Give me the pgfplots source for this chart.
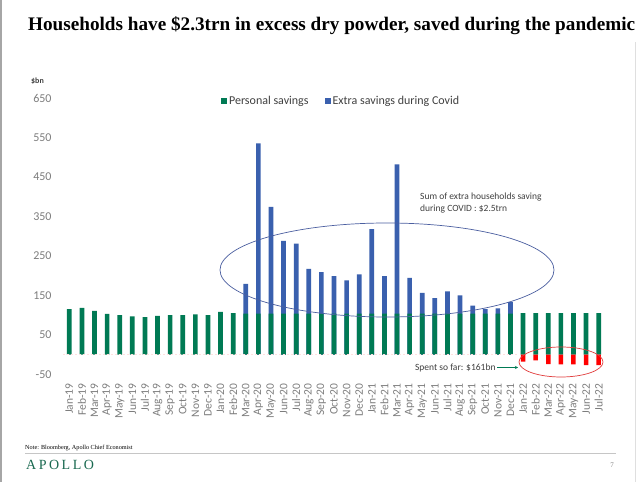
\documentclass[border=0pt]{standalone}
\usepackage{pgfplots}
\pgfplotsset{compat=1.18}
\usetikzlibrary{arrows.meta}
\usepackage{fontspec}
\setmainfont{Carlito}
\newfontfamily\titlefont{Liberation Serif}
\newfontfamily\apollofont[LetterSpace=18]{Liberation Serif}
\definecolor{psgreen}{RGB}{0,122,84}
\definecolor{cvblue}{RGB}{58,96,174}
\definecolor{spred}{RGB}{255,0,0}
\definecolor{ticklab}{RGB}{125,125,125}
\definecolor{txt}{RGB}{64,64,64}
\definecolor{ellblue}{RGB}{75,95,160}
\definecolor{ellred}{RGB}{225,60,60}
\definecolor{apgreen}{RGB}{25,105,80}
\begin{document}
\begin{tikzpicture}[x=1pt,y=1pt]
\useasboundingbox (0,0) rectangle (640,482);
\fill[white] (0,0) rectangle (640,482);
\draw[gray!70, line width=1.5pt] (0.8,0) -- (0.8,482);
\draw[gray!25, line width=0.8pt] (635,0) -- (635,440);
\coordinate (axpos) at (56.7pt,107.7pt);
\node[anchor=base west, inner sep=0pt] at (28,451) {\resizebox{607pt}{!}{\titlefont\bfseries Households have \$2.3trn in excess dry powder, saved during the pandemic}};
\node[anchor=center, inner sep=0pt, text=txt] at (37.5,400.5) {\fontsize{8}{9}\selectfont\bfseries \$bn};
\begin{axis}[
  at={(axpos)}, anchor=south west, scale only axis,
  width=554.6pt, height=276.3pt,
  xmin=-1, xmax=43, ymin=-50, ymax=650,
  clip=false,
  axis line style={draw=none},
  major tick length=0pt,
  xtick={0,...,42},
  xticklabels={Jan-19,Feb-19,Mar-19,Apr-19,May-19,Jun-19,Jul-19,Aug-19,Sep-19,Oct-19,Nov-19,Dec-19,Jan-20,Feb-20,Mar-20,Apr-20,May-20,Jun-20,Jul-20,Aug-20,Sep-20,Oct-20,Nov-20,Dec-20,Jan-21,Feb-21,Mar-21,Apr-21,May-21,Jun-21,Jul-21,Aug-21,Sep-21,Oct-21,Nov-21,Dec-21,Jan-22,Feb-22,Mar-22,Apr-22,May-22,Jun-22,Jul-22},
  ytick={-50,50,150,250,350,450,550,650},
  yticklabels={-50,50,150,250,350,450,550,650},
  xticklabel style={rotate=90, anchor=east, inner sep=0pt, text=ticklab, font=\fontsize{11.5}{12}\selectfont},
  xticklabel shift=9pt,
  yticklabel style={anchor=east, inner sep=0pt, text=ticklab, font=\fontsize{12}{13}\selectfont},
  yticklabel shift=5pt,
  legend style={at={(0.296,0.989)}, anchor=west, draw=none, fill=none, inner sep=0pt,
    font=\fontsize{12}{14}\selectfont, text=txt, legend columns=2,
    /tikz/every even column/.append style={column sep=14pt},
    legend cell align=left},
  legend image code/.code={\fill[#1] (-2.5pt,-3pt) rectangle (3.5pt,3pt);},
]
\addplot[ybar, bar width=4.7pt, fill=cvblue, draw=none, forget plot] coordinates {
(14,179)(15,535)(16,374)(17,288)(18,281)(19,217)(20,209)(21,199)(22,188)(23,203)
(24,318)(25,199)(26,482)(27,194)(28,156)(29,143)(30,160)(31,150)(32,124)(33,115)(34,117)(35,133)};
\addplot[ybar, bar width=4.7pt, fill=psgreen, draw=none] coordinates {
(0,115)(1,118)(2,111)(3,103)(4,100)(5,97)(6,95)(7,98)(8,100)(9,100)(10,102)(11,100)
(12,108)(13,105)(14,104)(15,104)(16,104)(17,104)(18,104)(19,104)(20,104)(21,104)(22,104)(23,104)
(24,104)(25,104)(26,104)(27,104)(28,104)(29,104)(30,104)(31,104)(32,104)(33,104)(34,104)(35,104)
(36,105)(37,105)(38,105)(39,105)(40,105)(41,105)(42,105)};
\addlegendentry{Personal savings}
\addlegendimage{fill=cvblue, draw=none}
\addlegendentry{Extra savings during Covid}
\addplot[ybar, bar width=4.5pt, fill=spred, draw=none, forget plot] coordinates {
(36,-18)(37,-15)(38,-24)(39,-25)(40,-25)(41,-27)(42,-27)};
\addplot[spred!12, line width=0.8pt, dash pattern=on 1.5pt off 2.5pt, forget plot] coordinates {(-0.5,0)(35.5,0)};
\end{axis}
\draw[ellblue, line width=0.7pt] (387,212) ellipse [x radius=167, y radius=47];
\draw[ellred, line width=0.7pt] (561,120) ellipse [x radius=42, y radius=15];
\node[anchor=north west, inner sep=0pt, align=left, text=txt, font=\fontsize{9.5}{11.7}\selectfont] at (420,289) {Sum of extra households saving\\during COVID : \$2.5trn};
\node[anchor=east, inner sep=0pt, text=txt, font=\fontsize{9.5}{11}\selectfont] at (495.7,114) {Spent so far: \$161bn};
\draw[psgreen, line width=0.7pt, -{Stealth[length=3pt,width=3pt]}] (497,114.5) -- (518,114.5);
\node[anchor=base west, inner sep=0pt, text=black] at (25,32) {\titlefont\fontsize{6.2}{7}\selectfont Note: Bloomberg, Apollo Chief Economist};
\draw[gray!45, line width=1pt] (25,28) -- (616,28);
\node[anchor=west, inner sep=0pt, text=apgreen] at (26,17) {\apollofont\fontsize{14}{16}\selectfont APOLLO};
\node[anchor=center, inner sep=0pt, text=gray] at (612,16.3) {\titlefont\fontsize{7}{8}\selectfont 7};
\end{tikzpicture}
\end{document}
